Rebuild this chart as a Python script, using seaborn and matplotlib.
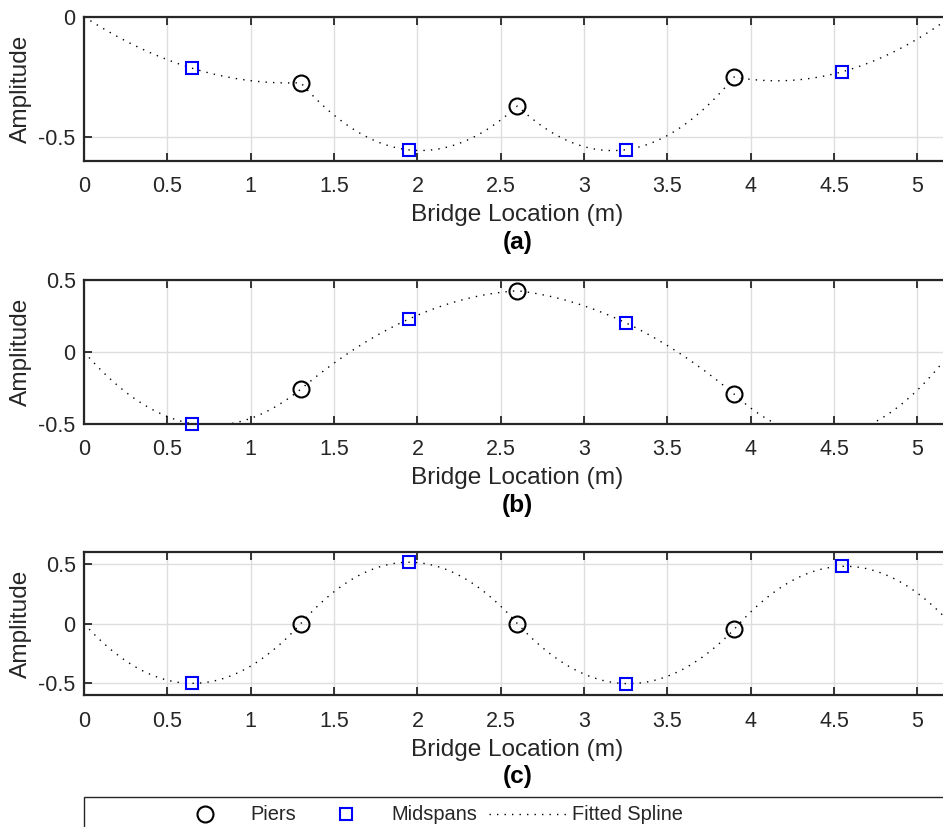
import numpy as np
import pandas as pd
import matplotlib
matplotlib.use("Agg")
import matplotlib.pyplot as plt
from matplotlib.lines import Line2D
from matplotlib.patches import Rectangle
import seaborn as sns

# ---------------- data ----------------
span_ends_x = [0.0, 5.2]
span_ends_y = [0.0, 0.0]
piers_x = [1.3, 2.6, 3.9]
midspans_x = [0.65, 1.95, 3.25, 4.55]

piers_a = [-0.275, -0.372, -0.251]
midspans_a = [-0.215, -0.555, -0.554, -0.229]

piers_b = [-0.26, 0.425, -0.294]
midspans_b = [-0.50, 0.229, 0.202, -0.57]

piers_c = [0.0, 0.0, -0.048]
midspans_c = [-0.50, 0.514, -0.502, 0.48]

panel_labels = ["(a)", "(b)", "(c)"]
ylims = [(-0.6, 0.0), (-0.5, 0.5), (-0.6, 0.6)]
yticks = [[-0.5, 0.0], [-0.5, 0.0, 0.5], [-0.5, 0.0, 0.5]]
ytick_labels = [["-0.5", "0"], ["-0.5", "0", "0.5"], ["-0.5", "0", "0.5"]]
xticks = [0, 0.5, 1, 1.5, 2, 2.5, 3, 3.5, 4, 4.5, 5]
xtick_labels = ["0", "0.5", "1", "1.5", "2", "2.5", "3", "3.5", "4", "4.5", "5"]
legend_labels = ["Piers", "Midspans", "Fitted Spline"]

# ---------------- style ----------------
sns.set_theme(style="white")
plt.rcParams["font.family"] = ["Liberation Sans", "DejaVu Sans"]
plt.rcParams["axes.unicode_minus"] = False

DARK = "#262626"
W, H = 943, 827
fig = plt.figure(figsize=(W / 100, H / 100), dpi=100)

px_per_x = 166.7
ax_left_px = 84
panel_px = [(16.7, 160.7), (280.0, 423.7), (552.0, 695.3)]

CIRCLE_MS, SQUARE_MS, MEW = 11.5, 9.0, 1.5


def fitted_spline(px, py, mx, my):
    """Piecewise quadratic through support - midspan - support for each span."""
    knots_x = [span_ends_x[0]] + list(px) + [span_ends_x[1]]
    knots_y = [span_ends_y[0]] + list(py) + [span_ends_y[1]]
    xs, ys = [], []
    for i in range(len(mx)):
        coef = np.polyfit([knots_x[i], mx[i], knots_x[i + 1]],
                          [knots_y[i], my[i], knots_y[i + 1]], 2)
        t = np.linspace(knots_x[i], knots_x[i + 1], 60)
        xs.extend(t)
        ys.extend(np.polyval(coef, t))
    return np.array(xs), np.array(ys)


datasets = [(piers_a, midspans_a), (piers_b, midspans_b), (piers_c, midspans_c)]

for k, ((top, bot), (py, my)) in enumerate(zip(panel_px, datasets)):
    ax = fig.add_axes([ax_left_px / W, 1 - bot / H,
                       5.2 * px_per_x / W, (bot - top) / H])
    ylo, yhi = ylims[k]
    ax.set_xlim(0, 5.2)
    ax.set_ylim(ylo, yhi)

    sx, sy = fitted_spline(piers_x, py, midspans_x, my)
    spline_df = pd.DataFrame({"x": sx, "y": sy})
    sns.lineplot(data=spline_df, x="x", y="y", ax=ax, color="black",
                 linewidth=1.0, linestyle=(0, (1, 4.4)),
                 estimator=None, sort=False, zorder=2)

    # markers drawn only when inside the visible range
    pdf = pd.DataFrame({"x": piers_x, "y": py})
    pdf = pdf[(pdf.y >= ylo - 0.02) & (pdf.y <= yhi + 0.02)]
    mdf = pd.DataFrame({"x": midspans_x, "y": my})
    mdf = mdf[(mdf.y >= ylo - 0.02) & (mdf.y <= yhi + 0.02)]
    sns.lineplot(data=pdf, x="x", y="y", ax=ax, linestyle="none",
                 marker="o", markersize=CIRCLE_MS, markerfacecolor="none",
                 markeredgecolor="black", markeredgewidth=MEW,
                 color="black", estimator=None, sort=False,
                 clip_on=False, zorder=4)
    sns.lineplot(data=mdf, x="x", y="y", ax=ax, linestyle="none",
                 marker="s", markersize=SQUARE_MS, markerfacecolor="none",
                 markeredgecolor="#0000ff", markeredgewidth=MEW,
                 color="#0000ff", estimator=None, sort=False,
                 clip_on=False, zorder=4)

    ax.set_xticks(xticks)
    ax.set_xticklabels(xtick_labels)
    ax.set_yticks(yticks[k])
    ax.set_yticklabels(ytick_labels[k])
    ax.grid(True, color="#dedede", linewidth=1.0)
    ax.set_axisbelow(True)
    ax.tick_params(axis="both", direction="in", length=6, width=1.3,
                   color=DARK, labelcolor=DARK, labelsize=15.5,
                   top=True, right=True, bottom=True, left=True)
    ax.tick_params(axis="x", pad=11)
    ax.tick_params(axis="y", pad=6)
    for sp in ax.spines.values():
        sp.set_color(DARK)
        sp.set_linewidth(1.6)

    h_px = bot - top
    w_px = 5.2 * px_per_x
    ax.set_xlabel("Bridge Location (m)", fontsize=17.6, color=DARK)
    ax.xaxis.set_label_coords(0.5, -60.5 / h_px)
    ax.xaxis.label.set_va("baseline")
    ax.set_ylabel("Amplitude", fontsize=17.6, color=DARK)
    ax.yaxis.set_label_coords((21 - ax_left_px) / w_px, 0.5)
    ax.yaxis.label.set_va("center")
    ax.text(0.5, -88 / h_px, panel_labels[k], transform=ax.transAxes,
            ha="center", va="baseline", fontsize=17.6, fontweight="bold",
            color="black")

# ---------------- legend ----------------
handles = [
    Line2D([], [], linestyle="none", marker="o", markersize=CIRCLE_MS,
           markerfacecolor="none", markeredgecolor="black", markeredgewidth=MEW),
    Line2D([], [], linestyle="none", marker="s", markersize=SQUARE_MS,
           markerfacecolor="none", markeredgecolor="#0000ff", markeredgewidth=MEW),
    Line2D([], [], color="black", linewidth=1.0, linestyle=(0, (1, 4.4))),
]
fig.legend(handles, legend_labels, loc="center",
           bbox_to_anchor=(425 / W, 1 - 815 / H), ncol=3, frameon=False,
           fontsize=14.4, handlelength=3.85, handletextpad=0.33,
           columnspacing=0.58, borderpad=0, labelcolor=DARK)
fig.patches.append(Rectangle((83.5 / W, -0.1), 1.0, (1 - 797 / H) + 0.1,
                             transform=fig.transFigure, fill=False,
                             edgecolor=DARK, linewidth=1.0))

fig.savefig("out.png", dpi=100)
